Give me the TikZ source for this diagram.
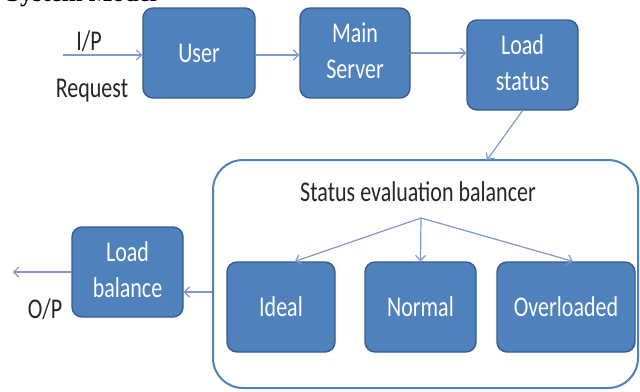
\documentclass[tikz,border=0pt]{standalone}
\usepackage{fontspec}
\setmainfont{Carlito}
\newfontfamily\titlefont{Liberation Serif}
\usetikzlibrary{arrows.meta,calc}
\definecolor{boxfill}{HTML}{4F81BD}
\definecolor{boxline}{HTML}{385D8A}
\definecolor{arrcol}{HTML}{7F9ACA}
\definecolor{txtcol}{HTML}{262626}
\newcommand{\vt}[1]{\scalebox{1}[1.3]{#1}}
\newcommand{\vtt}[2]{\scalebox{1}[1.3]{\begin{tabular}{@{}c@{}}#1\\#2\end{tabular}}}
\tikzset{
  blk/.style={rectangle, rounded corners=10pt, fill=boxfill, draw=boxline, line width=1.4pt,
    text=white, inner sep=0pt, font=\fontsize{22}{28}\selectfont},
  arr/.style={draw=arrcol, line width=1.2pt, -{Straight Barb[length=5pt,width=10pt]}},
  lbl/.style={text=txtcol, inner sep=0pt, font=\fontsize{22}{28}\selectfont},
  bigbox/.style={rectangle, rounded corners=30pt, draw=boxfill, line width=2pt, fill=white, inner sep=0pt}
}
\begin{document}
\begin{tikzpicture}[x=1pt,y=-1pt]
\useasboundingbox (0,0) rectangle (640,391);
\clip (0,0) rectangle (640,391);
\fill[white] (0,0) rectangle (640,391);
% title (cut off at top, as in the reference)
\node[anchor=base west, inner sep=0pt, font=\titlefont\bfseries\fontsize{25}{30}\selectfont] (title) at (6,1) {System Model};
% big container
\node[bigbox, minimum width=425pt, minimum height=228pt] (big) at (425.5,274) {};
% blocks
\node[blk, minimum width=112pt, minimum height=90pt] (user) at (199,53) {\vt{User}};
\node[blk, minimum width=110pt, minimum height=90pt] (main) at (355,53) {\vtt{Main}{Server}};
\node[blk, minimum width=111pt, minimum height=90pt] (load) at (522.5,65) {\vtt{Load}{status}};
\node[blk, minimum width=111pt, minimum height=90pt] (lb) at (127.5,272) {\vtt{Load}{balance}};
\node[blk, minimum width=108pt, minimum height=90pt] (ideal) at (281,307) {\vt{Ideal}};
\node[blk, minimum width=111pt, minimum height=90pt] (normal) at (420.5,307) {\vt{Normal}};
\node[blk, minimum width=138pt, minimum height=90pt] (over) at (566,307) {\vt{Overloaded}};
% labels
\node[lbl] (ipl) at (89,41) {\vt{I/P}};
\node[lbl] (req) at (92,91) {\vt{Request}};
\node[lbl] (opl) at (45,309) {\vt{O/P}};
\node[lbl] (sev) at (418,192) {\vt{Status evaluation balancer}};
% coordinates
\coordinate (ip) at (63,55);
\coordinate (op) at (13,272);
\coordinate (bin) at (487,160);
\coordinate (split) at (421,218);
% connectors
\draw[arr] (ip) -- (ip -| user.west);
\draw[arr] ($(user.east)+(0,2)$) -- ($(main.west)+(0,2)$);
\draw[arr] (main.east) -- (main.east -| load.west);
\draw[arr] (load.south) -- (bin);
\draw[arr] ($(big.west)+(0,18)$) -- ($(lb.east)+(0,20)$);
\draw[arr] (lb.west) -- (op);
\draw[arr] (split) -- ($(ideal.north)+(14,0)$);
\draw[arr] (split) -- (normal.north);
\draw[arr] (split) -- ($(over.north)+(7,0)$);
\end{tikzpicture}
\end{document}
